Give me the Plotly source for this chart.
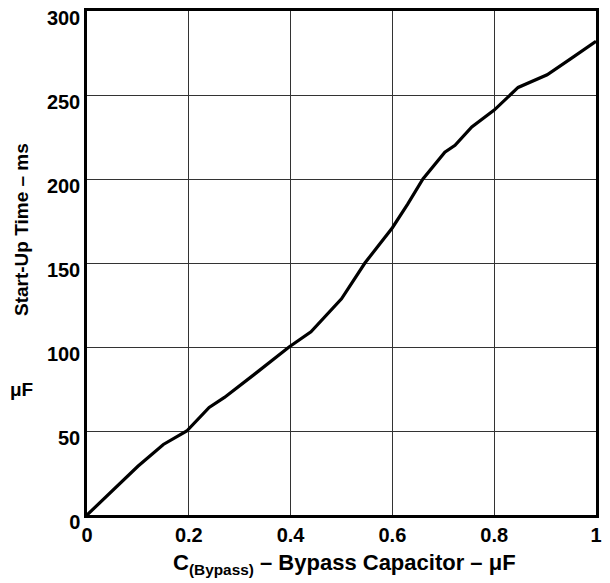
import plotly.graph_objects as go

cap_uF = [0.0, 0.05, 0.10, 0.15, 0.196, 0.24, 0.27, 0.33, 0.397, 0.44, 0.50, 0.546, 0.60, 0.63, 0.66, 0.703, 0.723, 0.756, 0.80, 0.847, 0.904, 0.95, 1.0]
startup_ms = [0.0, 14.5, 29, 42, 50, 64, 70, 84, 100, 109, 128.7, 150, 171, 185, 200, 216, 220, 231, 241, 254.5, 262, 271.5, 282]

x_ticks = [0, 0.2, 0.4, 0.6, 0.8, 1]
x_tick_text = ["0", "0.2", "0.4", "0.6", "0.8", "1"]
y_ticks = [0, 50, 100, 150, 200, 250, 300]

font = "Liberation Sans, Arial, sans-serif"
# the page body adds an 8px margin, so the figure is drawn 8px in from the window edge
W, H = 602, 575
L, R, T, B = 79, 14, 3, 68
pw, ph = W - L - R, H - T - B


def px(fx):
    return (fx - L) / pw


def py(fy):
    return (T + ph - fy) / ph


fig = go.Figure()
fig.add_trace(go.Scatter(x=cap_uF, y=startup_ms, mode="lines",
                         line=dict(color="black", width=3.2), showlegend=False))

fig.update_layout(
    width=W, height=H,
    margin=dict(l=L, r=R, t=T, b=B, autoexpand=False),
    plot_bgcolor="white", paper_bgcolor="white",
    font=dict(family=font, size=20, color="black"),
    xaxis=dict(range=[0, 1], tickvals=x_ticks, ticktext=x_tick_text,
               showgrid=True, gridcolor="#333", gridwidth=1.4,
               showline=True, linecolor="black", linewidth=2.5, mirror=True,
               ticks="", zeroline=False,
               tickfont=dict(family=font, size=20, color="black", weight="bold"),
               ticklabelstandoff=0, ticklabeloverflow="allow"),
    yaxis=dict(range=[0, 300], tickvals=y_ticks,
               showgrid=True, gridcolor="#333", gridwidth=1.4,
               showline=True, linecolor="black", linewidth=2.5, mirror=True,
               ticks="", zeroline=False,
               tickfont=dict(family=font, size=20, color="black", weight="bold"),
               ticklabelshift=7, ticklabelstandoff=0, ticklabeloverflow="allow"),
)

# x-axis title
fig.add_annotation(text="C<sub>(Bypass)</sub> – Bypass Capacitor – μF",
                   xref="paper", yref="paper", x=px(336), y=py(556),
                   xanchor="center", yanchor="middle", showarrow=False,
                   font=dict(family=font, size=22, color="black", weight="bold"))

# y-axis title
fig.add_annotation(text="Start-Up Time – ms", textangle=-90,
                   xref="paper", yref="paper", x=px(13), y=py(222),
                   xanchor="center", yanchor="middle", showarrow=False,
                   font=dict(family=font, size=19, color="black", weight="bold"))

# stray unit text at the left edge
fig.add_annotation(text="μF", xref="paper", yref="paper", x=px(0), y=py(381),
                   xanchor="left", yanchor="middle", showarrow=False,
                   font=dict(family=font, size=19, color="black", weight="bold"))

fig.write_html("out.html")
